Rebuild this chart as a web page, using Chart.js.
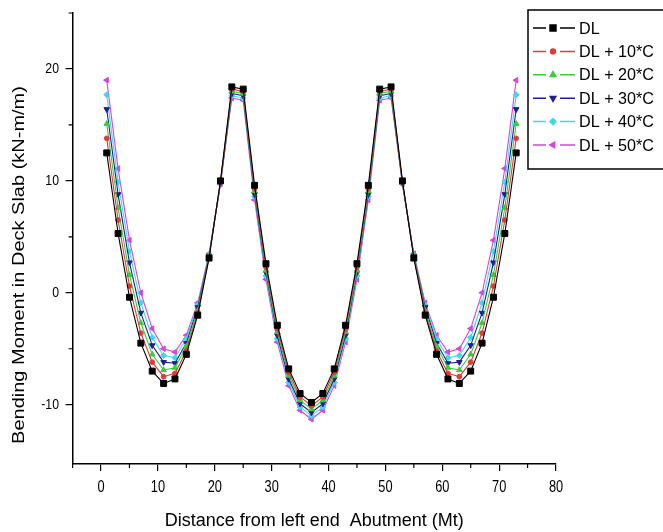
<!DOCTYPE html>
<html>
<head>
<meta charset="utf-8">
<title>Bending Moment in Deck Slab</title>
<script src="https://cdn.jsdelivr.net/npm/chart.js@4/dist/chart.umd.min.js"></script>
<style>
  html, body { margin: 0; padding: 0; background: #fff; }
  #wrap { width: 663px; height: 532px; }
</style>
</head>
<body>
<div id="wrap"><canvas id="bm-chart" width="663" height="532"></canvas></div>
<script>
// Stations along the deck (m)
const positions = [1, 3, 5, 7, 9, 11, 13, 15, 17, 19, 21, 23, 25, 27, 29, 31, 33, 35, 37,
  39, 41, 43, 45, 47, 49, 51, 53, 55, 57, 59, 61, 63, 65, 67, 69, 71, 73];

// Bending moment (kN-m/m) for each load case
const dl = [12.5, 5.3, -0.4, -4.5, -7.0, -8.1, -7.7, -5.5, -2.0, 3.1, 10.0, 18.4, 18.2, 9.6, 2.6, -2.9, -6.8, -9.0, -9.8,
  -9.0, -6.8, -2.9, 2.6, 9.6, 18.2, 18.4, 10.0, 3.1, -2.0, -5.5, -7.7, -8.1, -7.0, -4.5, -0.4, 5.3, 12.5];
const dl10 = [13.8, 6.5, 0.6, -3.6, -6.2, -7.5, -7.2, -5.2, -1.8, 3.2, 9.9, 18.2, 18.0, 9.3, 2.3, -3.2, -7.1, -9.3, -10.1,
  -9.3, -7.1, -3.2, 2.3, 9.3, 18.0, 18.2, 9.9, 3.2, -1.8, -5.2, -7.2, -7.5, -6.2, -3.6, 0.6, 6.5, 13.8];
const dl20 = [15.1, 7.6, 1.6, -2.7, -5.5, -6.9, -6.7, -4.8, -1.6, 3.3, 9.9, 18.0, 17.8, 9.1, 2.0, -3.5, -7.4, -9.6, -10.4,
  -9.6, -7.4, -3.5, 2.0, 9.1, 17.8, 18.0, 9.9, 3.3, -1.6, -4.8, -6.7, -6.9, -5.5, -2.7, 1.6, 7.6, 15.1];
const dl30 = [16.4, 8.8, 2.7, -1.8, -4.7, -6.2, -6.3, -4.5, -1.3, 3.3, 9.8, 17.8, 17.6, 8.8, 1.8, -3.8, -7.7, -9.9, -10.7,
  -9.9, -7.7, -3.8, 1.8, 8.8, 17.6, 17.8, 9.8, 3.3, -1.3, -4.5, -6.3, -6.2, -4.7, -1.8, 2.7, 8.8, 16.4];
const dl40 = [17.7, 9.9, 3.7, -0.9, -4.0, -5.6, -5.8, -4.1, -1.1, 3.4, 9.8, 17.6, 17.4, 8.6, 1.5, -4.1, -8.0, -10.2, -11.0,
  -10.2, -8.0, -4.1, 1.5, 8.6, 17.4, 17.6, 9.8, 3.4, -1.1, -4.1, -5.8, -5.6, -4.0, -0.9, 3.7, 9.9, 17.7];
const dl50 = [19.0, 11.1, 4.7, 0.0, -3.2, -5.0, -5.3, -3.8, -0.9, 3.5, 9.7, 17.4, 17.2, 8.3, 1.2, -4.4, -8.3, -10.5, -11.3,
  -10.5, -8.3, -4.4, 1.2, 8.3, 17.2, 17.4, 9.7, 3.5, -0.9, -3.8, -5.3, -5.0, -3.2, 0.0, 4.7, 11.1, 19.0];

const seriesNames = ["DL", "DL + 10*C", "DL + 20*C", "DL + 30*C", "DL + 40*C", "DL + 50*C"];
const seriesValues = [dl, dl10, dl20, dl30, dl40, dl50];
const seriesColors = ["#000000", "#e03a3a", "#35d035", "#1e1e96", "#3cdbe6", "#d844dc"];
const markerStyles = ["rect", "circle", "triangle", "triangle", "rectRot", "triangle"];
const markerRotation = [0, 0, 0, 180, 0, -90];
const markerRadius = [4.2, 2.4, 3.2, 3.2, 3.0, 3.2];

const xMinorTicks = [-5, 5, 15, 25, 35, 45, 55, 65, 75];
const yMinorTicks = [-5, 5, 15, 25];

const xTitle = "Distance from left end  Abutment (Mt)";
const yTitle = "Bending Moment in Deck Slab (kN-m/m)";
const fontFamily = "'Liberation Sans', Arial, sans-serif";

// draw text squeezed horizontally (the labels in this plot are condensed)
function squeezedText(ctx, text, x, y, squeeze, align) {
  ctx.save();
  ctx.translate(x, y);
  ctx.scale(squeeze, 1);
  ctx.textAlign = align;
  ctx.fillText(text, 0, 0);
  ctx.restore();
}

// tick labels, axis titles and half-length minor ticks
const axisDecor = {
  id: "axisDecor",
  afterDraw(chart) {
    const { ctx, scales } = chart;
    const xs = scales.x, ys = scales.y;
    ctx.save();
    ctx.strokeStyle = "#000";
    ctx.lineWidth = 1.2;
    ctx.beginPath();
    xMinorTicks.forEach(v => {
      const px = xs.getPixelForValue(v);
      ctx.moveTo(px, xs.top);
      ctx.lineTo(px, xs.top + 4);
    });
    yMinorTicks.forEach(v => {
      const py = ys.getPixelForValue(v);
      ctx.moveTo(ys.right, py);
      ctx.lineTo(ys.right - 4, py);
    });
    ctx.stroke();

    ctx.fillStyle = "#000";
    ctx.textBaseline = "middle";
    ctx.font = "16px " + fontFamily;
    xs.ticks.forEach(t => {
      squeezedText(ctx, String(t.value), xs.getPixelForValue(t.value), 488, 0.8, "center");
    });
    ctx.font = "15px " + fontFamily;
    ys.ticks.forEach(t => {
      squeezedText(ctx, String(t.value), 59, ys.getPixelForValue(t.value), 0.82, "right");
    });

    ctx.font = "18px " + fontFamily;
    ctx.textAlign = "center";
    ctx.fillText(xTitle, (xs.left + xs.right) / 2, 521);

    ctx.save();
    ctx.translate(19, 265);
    ctx.scale(0.85, 1);
    ctx.rotate(-Math.PI / 2);
    ctx.font = "20px " + fontFamily;
    ctx.textAlign = "center";
    ctx.fillText(yTitle, 0, 0);
    ctx.restore();
    ctx.restore();
  }
};

// boxed legend in the top right corner, line - marker - line
const boxLegend = {
  id: "boxLegend",
  afterDraw(chart) {
    const ctx = chart.ctx;
    ctx.save();
    ctx.strokeStyle = "#000";
    ctx.lineWidth = 1.5;
    ctx.strokeRect(528, 10, 200, 159);
    ctx.font = "17px " + fontFamily;
    ctx.textBaseline = "middle";
    chart.data.datasets.forEach((ds, i) => {
      const y = 28 + i * 23.4;
      ctx.strokeStyle = ds.borderColor;
      ctx.fillStyle = ds.borderColor;
      ctx.lineWidth = 1.5;
      ctx.beginPath();
      ctx.moveTo(533, y);
      ctx.lineTo(546, y);
      ctx.moveTo(560, y);
      ctx.lineTo(575, y);
      ctx.stroke();
      Chart.helpers.drawPoint(ctx, {
        pointStyle: ds.pointStyle,
        rotation: ds.pointRotation,
        radius: ds.pointRadius,
        borderWidth: 1
      }, 553, y);
      ctx.fillStyle = "#000";
      squeezedText(ctx, ds.label, 579, y + 1, 0.95, "left");
    });
    ctx.restore();
  }
};

const datasets = seriesNames.map((name, i) => ({
  label: name,
  data: positions.map((x, j) => ({ x: x, y: seriesValues[i][j] })),
  borderColor: seriesColors[i],
  backgroundColor: seriesColors[i],
  borderWidth: 1.1,
  pointStyle: markerStyles[i],
  pointRotation: markerRotation[i],
  pointRadius: markerRadius[i],
  pointBorderWidth: 1,
  tension: 0
}));

new Chart(document.getElementById("bm-chart"), {
  type: "line",
  data: { datasets: datasets },
  plugins: [axisDecor, boxLegend],
  options: {
    responsive: false,
    animation: false,
    devicePixelRatio: 1,
    layout: { padding: { top: 13, right: 107, bottom: 0, left: 0 } },
    plugins: {
      legend: { display: false },
      tooltip: { enabled: false }
    },
    scales: {
      x: {
        type: "linear",
        min: -5,
        max: 80,
        afterFit: scale => { scale.height = 68; },
        grid: { drawOnChartArea: false, drawTicks: true, tickLength: 7, color: "#000", lineWidth: 1.2 },
        border: { color: "#000", width: 1.5 },
        ticks: { stepSize: 10, includeBounds: false, display: false }
      },
      y: {
        type: "linear",
        min: -15.3,
        max: 25,
        afterFit: scale => { scale.width = 72.6; },
        grid: { drawOnChartArea: false, drawTicks: true, tickLength: 7, color: "#000", lineWidth: 1.2 },
        border: { color: "#000", width: 1.5 },
        ticks: { stepSize: 10, includeBounds: false, display: false }
      }
    }
  }
});
</script>
</body>
</html>
